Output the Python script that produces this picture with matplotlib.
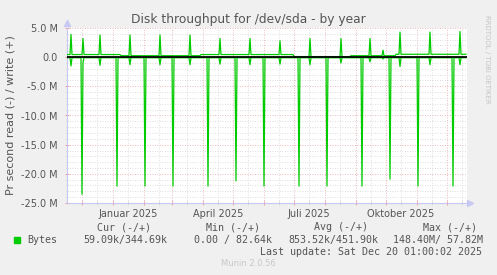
"""
Munin style disk throughput graph (by year) for /dev/sda
"""

import numpy as np
import matplotlib
matplotlib.use("Agg")
import matplotlib.pyplot as plt
from matplotlib.patches import Rectangle
from matplotlib.ticker import FixedLocator, FixedFormatter, MultipleLocator, FuncFormatter

# ---- data (MB/s) ----
start = np.datetime64("2024-11-16")
end = np.datetime64("2025-12-21")

write_spike_dates = ["2024-11-20", "2024-12-02", "2024-12-19", "2025-01-18", "2025-02-17",
                     "2025-03-19", "2025-04-18", "2025-05-18", "2025-06-17", "2025-07-17",
                     "2025-08-17", "2025-09-15", "2025-09-28", "2025-10-15", "2025-11-14",
                     "2025-12-14"]
write_spike_peak = [3.9, 3.2, 3.8, 3.8, 3.8, 3.8, 3.2, 3.2, 2.8, 3.2, 3.2, 3.2, 1.2, 4.3, 4.3, 4.4]
read_dip = [-1.5, -1.0, -1.4, -1.3, -1.3, -1.3, -1.2, -1.3, -1.2, -1.3, -1.0, -0.8, -0.3, -1.6, -1.3, -1.3]

read_spike_dates = ["2024-12-01", "2025-01-05", "2025-02-02", "2025-03-02", "2025-04-06",
                    "2025-05-04", "2025-06-01", "2025-07-06", "2025-08-03", "2025-09-07",
                    "2025-10-05", "2025-11-02", "2025-12-07"]
read_spike_peak = [-23.5, -22.1, -22.1, -22.1, -22.1, -21.2, -22.1, -22.1, -22.1, -22.1, -20.9, -22.1, -22.1]

write_level_dates = ["2024-11-16", "2025-01-08", "2025-03-29", "2025-06-30", "2025-08-26", "2025-10-10"]
write_level = [0.45, 0.25, 0.45, 0.1, 0.25, 0.5]
read_level = -0.1

month_starts = np.arange(np.datetime64("2024-12"), np.datetime64("2026-01"), np.timedelta64(1, "M"))
mid_months = month_starts.astype("datetime64[D]") + np.timedelta64(15, "D")
month_label = {"2025-01-16": "Januar 2025", "2025-04-16": "April 2025",
               "2025-07-16": "Juli 2025", "2025-10-16": "Oktober 2025"}

W, H = 497, 275
BG = "#f0f0f0"
TXT = "#555555"
GREEN = "#00cc00"
AXIS = "#c8c8f4"

wl_dates = np.array(write_level_dates, dtype="datetime64[D]")


def write_base(d):
    i = np.searchsorted(wl_dates, d, side="right") - 1
    return write_level[max(i, 0)]


def build_line(spike_dates, spike_vals, base_fn, extra=None):
    pts = {}
    spikes = [np.datetime64(d, "D") for d in spike_dates]
    for d, v in zip(spikes, spike_vals):
        pts[d] = v
    for d in spikes:
        for n in (d - 1, d + 1):
            pts.setdefault(n, base_fn(n))
    if extra:
        for d, v in extra.items():
            pts.setdefault(d, v)
    pts.setdefault(start, base_fn(start))
    pts.setdefault(end - 1, base_fn(end - 1))
    keys = sorted(pts)
    return np.array(keys), np.array([pts[k] for k in keys]) * 1e6


# step changes of the write baseline
steps = {}
for i in range(1, len(wl_dates)):
    steps[wl_dates[i]] = write_level[i - 1]
    steps[wl_dates[i] + 1] = write_level[i]

wx, wy = build_line(write_spike_dates, write_spike_peak, write_base, steps)
rx, ry = build_line(read_spike_dates + write_spike_dates, read_spike_peak + read_dip,
                    lambda d: read_level)

fig = plt.figure(figsize=(W / 100, H / 100), dpi=100, facecolor=BG)
ax = fig.add_axes([67 / W, 72 / H, 400 / W, 175 / H])
ax.set_facecolor("white")

ax.plot(rx, ry, color=GREEN, lw=0.9, zorder=3)
ax.plot(wx, wy, color=GREEN, lw=0.9, zorder=3)
ax.axhline(0, color="black", lw=1.3, zorder=4)

ax.set_xlim(start, end)
ax.set_ylim(-25e6, 5e6)

ax.xaxis.set_major_locator(FixedLocator(matplotlib.dates.date2num(month_starts.astype("datetime64[D]"))))
ax.xaxis.set_major_formatter(FixedFormatter([""] * len(month_starts)))
ax.xaxis.set_minor_locator(FixedLocator(matplotlib.dates.date2num(mid_months)))
ax.xaxis.set_minor_formatter(FixedFormatter([month_label.get(str(d), "") for d in mid_months]))

ax.yaxis.set_major_locator(MultipleLocator(5e6))
ax.yaxis.set_minor_locator(MultipleLocator(1e6))
ax.yaxis.set_major_formatter(FuncFormatter(lambda v, p: "0.0" if abs(v) < 1 else f"{v / 1e6:.1f} M"))

ax.grid(which="major", color="#e8a0a0", linestyle=(0, (1, 2)), lw=0.6)
ax.grid(which="minor", color="#d4d4d4", linestyle=(0, (1, 2)), lw=0.6)
ax.set_axisbelow(True)

ax.tick_params(which="both", labelsize=7, labelcolor=TXT, direction="inout", pad=3)
ax.tick_params(axis="x", which="major", color="#e8a0a0", length=3)
ax.tick_params(axis="x", which="minor", color="#d4d4d4", length=3)
ax.tick_params(axis="y", which="major", color="#e8a0a0", length=3, pad=5)
ax.tick_params(axis="y", which="minor", color="#d4d4d4", length=2)

for s in ("top", "right"):
    ax.spines[s].set_visible(False)
for s in ("left", "bottom"):
    ax.spines[s].set_color(AXIS)
    ax.spines[s].set_linewidth(0.8)
ax.plot(1.0075, 0, marker=">", ms=4, color=AXIS, transform=ax.transAxes, clip_on=False)
ax.plot(0, 1.03, marker="^", ms=4, color=AXIS, transform=ax.transAxes, clip_on=False)

ax.set_ylabel("Pr second read (-) / write (+)", fontsize=8, color=TXT, labelpad=4)
fig.text(0.5, 1 - 19 / H, "Disk throughput for /dev/sda - by year", ha="center", va="center",
         fontsize=8.8, color=TXT)
fig.text(487 / W, 1 - 15 / H, "RRDTOOL / TOBI OETIKER", rotation=270, ha="center", va="top",
         fontsize=5, color="#c4c4c4")

# legend block
mono = dict(family="DejaVu Sans Mono", fontsize=7.2, color=TXT, va="center")
ylg = 1 - 227 / H
for x, t in [(151, "Cur (-/+)"), (260, "Min (-/+)"), (368, "Avg (-/+)"), (477, "Max (-/+)")]:
    fig.text(x / W, ylg, t, ha="right", **mono)
yv = 1 - 240 / H
fig.patches.append(Rectangle((14 / W, 1 - 243 / H), 6 / W, 6 / H, transform=fig.transFigure,
                             color=GREEN, figure=fig))
fig.text(27 / W, yv, "Bytes", ha="left", **mono)
for x, t in [(167, "59.09k/344.69k"), (272, "0.00 / 82.64k"), (378, "853.52k/451.90k"),
             (483, "148.40M/ 57.82M")]:
    fig.text(x / W, yv, t, ha="right", **mono)
fig.text(482 / W, 1 - 252 / H, "Last update: Sat Dec 20 01:00:02 2025", ha="right", **mono)
fig.text(248 / W, 1 - 264 / H, "Munin 2.0.56", ha="center", va="center", fontsize=6, color="#c8c8c8")

fig.savefig("out.png", dpi=100, facecolor=BG)
